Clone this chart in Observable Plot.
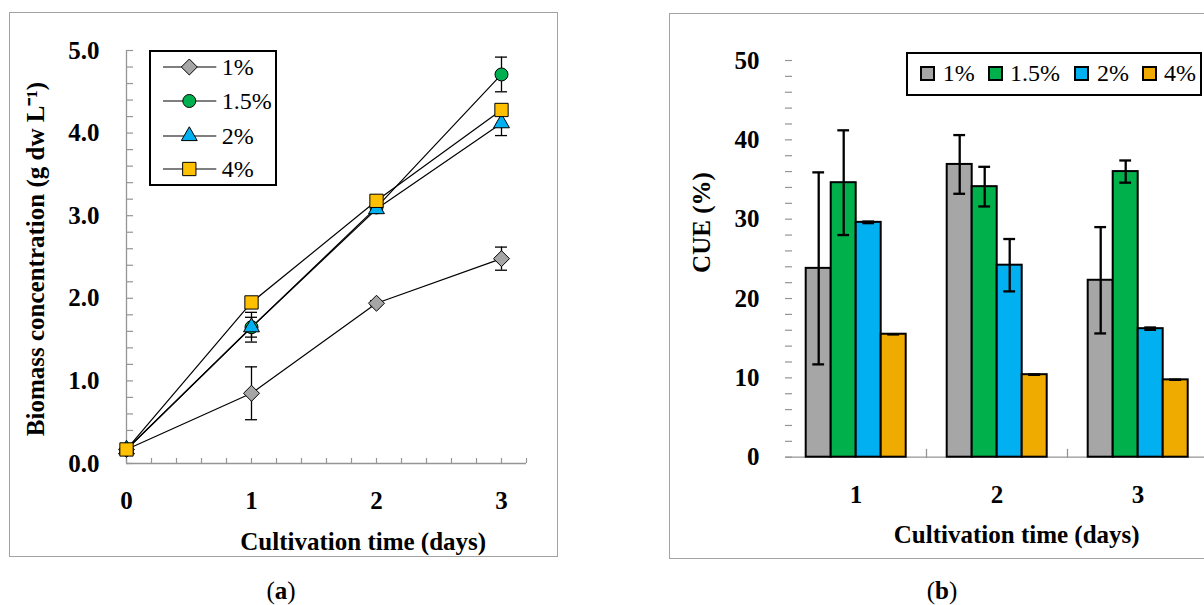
<!DOCTYPE html>
<html><head><meta charset="utf-8">
<script src="https://cdn.jsdelivr.net/npm/d3@7"></script>
<script src="https://cdn.jsdelivr.net/npm/@observablehq/plot@0.6"></script>
<style>
html,body{margin:0;padding:0;background:#fff;overflow:hidden}
#root{position:relative;width:1204px;height:605px;overflow:hidden;background:#fff;font-family:"Liberation Serif",serif;}
.frame{position:absolute;border:1px solid #a3a3a3;box-sizing:border-box;}
.chart{position:absolute;}
.chart svg{max-width:none !important;}
.legend{position:absolute;border:2px solid #000;background:#fff;box-sizing:border-box;}
.legend .t{position:absolute;font-family:"Liberation Serif",serif;font-size:24px;line-height:24px;white-space:nowrap;color:#000;}
.legend svg{position:absolute;overflow:visible}
.sw{position:absolute;width:15px;height:15px;border:2px solid #000;box-sizing:border-box;}
.cap{position:absolute;width:100px;text-align:center;font-family:"Liberation Serif",serif;font-size:25px;line-height:25px;color:#000;}
</style></head>
<body><div id="root">
  <div class="frame" style="left:9px;top:12px;width:549px;height:545px"></div>
  <div class="frame" style="left:669px;top:13px;width:560px;height:546px"></div>
  <div class="chart" id="chartA" style="left:9px;top:12px;width:549px;height:545px"></div>
  <div class="chart" id="chartB" style="left:669px;top:13px;width:561px;height:546px"></div>
  <div class="legend" id="legA" style="left:149px;top:50px;width:128px;height:136px"></div>
  <div class="legend" id="legB" style="left:906px;top:52px;width:296px;height:44px"></div>
  <div class="cap" style="left:231px;top:578px">(<b>a</b>)</div>
  <div class="cap" style="left:892px;top:578px">(<b>b</b>)</div>
</div>
<script>
// ---------- data: panel (a) biomass concentration ----------
const days = [0, 1, 2, 3];
const seriesNames = ["1%", "1.5%", "2%", "4%"];
const biomass1 = [0.17, 0.85, 1.94, 2.48];
const biomass1Err = [0.02, 0.32, 0.03, 0.14];
const biomass15 = [0.17, 1.65, 3.10, 4.71];
const biomass15Err = [0.02, 0.18, 0.04, 0.21];
const biomass2 = [0.17, 1.65, 3.08, 4.12];
const biomass2Err = [0.02, 0.12, 0.04, 0.15];
const biomass4 = [0.17, 1.95, 3.18, 4.28];
const biomass4Err = [0.02, 0.06, 0.03, 0.06];
const biomassYTicks = [0, 1, 2, 3, 4, 5];

// ---------- data: panel (b) CUE ----------
const cueDays = [1, 2, 3];
const cue1 = [23.8, 36.9, 22.3];
const cue1Err = [12.1, 3.7, 6.7];
const cue15 = [34.6, 34.1, 36.0];
const cue15Err = [6.6, 2.5, 1.4];
const cue2 = [29.6, 24.2, 16.2];
const cue2Err = [0.1, 3.3, 0.15];
const cue4 = [15.5, 10.4, 9.75];
const cue4Err = [0, 0, 0];
const cueYTicks = [0, 10, 20, 30, 40, 50];

// ---------- styling ----------
const axisGray = "#959595";
const lineColors = ["#a6a6a6", "#00b050", "#00b0f0", "#ffc000"];
const barColors = ["#a6a6a6", "#00b04a", "#00b0f0", "#f0ab00"];
const bioSymbols = ["diamond2", "circle", "triangle", "square"];
const bioR = [7.2, 6.5, 5.9, 7.5];
const d3Symbols = {diamond2: d3.symbolDiamond2, circle: d3.symbolCircle, triangle: d3.symbolTriangle, square: d3.symbolSquare};
const serif = "'Liberation Serif', serif";

const bioValues = [biomass1, biomass15, biomass2, biomass4];
const bioErrs = [biomass1Err, biomass15Err, biomass2Err, biomass4Err];
const bioData = seriesNames.flatMap((s, si) => days.map((d, i) => ({series: s, day: d, value: bioValues[si][i], err: bioErrs[si][i]})));

const cueValues = [cue1, cue15, cue2, cue4];
const cueErrs = [cue1Err, cue15Err, cue2Err, cue4Err];
const cueData = seriesNames.flatMap((s, si) => cueDays.map((d, i) => ({series: s, day: d, value: cueValues[si][i], err: cueErrs[si][i]})));

const xMinor = d3.range(17).map(i => i / 5);
const yMinor = d3.range(26).map(i => i / 5);
const cueMinor = d3.range(26).map(i => i * 2);

const svgStyle = {fontFamily: serif, fontSize: "25px", fontWeight: "bold", background: "transparent", color: "#000", overflow: "visible", maxWidth: "none"};

// ---------- panel (a) ----------
const chartA = Plot.plot({
  width: 549, height: 545,
  marginLeft: 117, marginRight: 32, marginTop: 38, marginBottom: 94,
  x: {domain: [0, 3.2], label: null},
  y: {domain: [0, 5], label: null},
  style: svgStyle,
  marks: [
    Plot.ruleX([0], {stroke: axisGray, strokeWidth: 1.3}),
    Plot.ruleY([0], {stroke: axisGray, strokeWidth: 1.3}),
    Plot.axisX({ticks: xMinor, tickSize: -5, tickFormat: () => "", stroke: axisGray, strokeWidth: 1.2, label: null}),
    Plot.axisY({ticks: yMinor, tickSize: -7, tickFormat: () => "", stroke: axisGray, strokeWidth: 1.2, label: null}),
    Plot.axisX({ticks: days, tickSize: 0, tickPadding: 45.5, lineAnchor: "bottom", tickFormat: d3.format("d"), label: null}),
    Plot.axisY({ticks: biomassYTicks, tickSize: 0, tickPadding: 27, tickFormat: d3.format(".1f"), label: null}),
    Plot.text(["Cultivation time (days)"], {frameAnchor: "bottom", textAnchor: "middle", lineAnchor: "bottom", dy: 86, dx: 36.7}),
    Plot.text(["Biomass concentration (g dw L\u207B\u00B9)"], {frameAnchor: "left", textAnchor: "middle", lineAnchor: "middle", rotate: -90, dx: -91, dy: 2}),
    Plot.line(bioData, {x: "day", y: "value", z: "series", stroke: "black", strokeWidth: 1.2}),
    Plot.ruleX(bioData, {x: "day", y1: d => d.value - d.err, y2: d => d.value + d.err, stroke: "black", strokeWidth: 1.3}),
    Plot.ruleY(bioData, {x1: "day", x2: "day", y: d => d.value + d.err, insetLeft: -6, insetRight: -6, stroke: "black", strokeWidth: 1.3}),
    Plot.ruleY(bioData, {x1: "day", x2: "day", y: d => d.value - d.err, insetLeft: -6, insetRight: -6, stroke: "black", strokeWidth: 1.3}),
    ...seriesNames.map((s, si) => Plot.dot(bioData.filter(d => d.series === s), {
      x: "day", y: "value", symbol: bioSymbols[si], r: bioR[si], fill: lineColors[si], stroke: "black", strokeWidth: 1, fillOpacity: 1
    }))
  ]
});
document.getElementById("chartA").appendChild(chartA);

// ---------- panel (b) ----------
const chartB = Plot.plot({
  width: 561, height: 546,
  marginLeft: 114.3, marginRight: 20.7, marginTop: 47, marginBottom: 102.3,
  fx: {domain: cueDays, padding: 0, label: null},
  x: {domain: seriesNames, paddingInner: 0, paddingOuter: 0.73, axis: null, label: null},
  y: {domain: [0, 50], label: null},
  color: {domain: seriesNames, range: barColors},
  style: svgStyle,
  marks: [
    Plot.ruleY([0], {stroke: axisGray, strokeWidth: 1.3}),
    Plot.frame({anchor: "right", insetTop: 389, stroke: axisGray, strokeWidth: 1.3}),
    Plot.axisY({ticks: cueMinor, tickSize: -7, tickFormat: () => "", stroke: axisGray, strokeWidth: 1.2, line: true, label: null}),
    Plot.axisY({ticks: cueYTicks, tickSize: 0, tickPadding: 26, label: null}),
    Plot.axisFx({anchor: "bottom", tickSize: 0, tickPadding: 45.5, lineAnchor: "bottom", label: null}),
    Plot.text(["Cultivation time (days)"], {frameAnchor: "bottom", textAnchor: "middle", lineAnchor: "bottom", dy: 86, dx: 160.7, facetAnchor: "left"}),
    Plot.text(["CUE (%)"], {frameAnchor: "left", textAnchor: "middle", lineAnchor: "middle", rotate: -90, dx: -83.3, dy: -36.3, facetAnchor: "left"}),
    Plot.barY(cueData, {fx: "day", x: "series", y: "value", fill: "series", stroke: "black", strokeWidth: 2}),
    Plot.ruleX(cueData, {fx: "day", x: "series", y1: d => d.value - d.err, y2: d => d.value + d.err, stroke: "black", strokeWidth: 2.3}),
    Plot.tickY(cueData, {fx: "day", x: "series", y: d => d.value + d.err, insetLeft: 6.6, insetRight: 6.6, stroke: "black", strokeWidth: 2.3}),
    Plot.tickY(cueData, {fx: "day", x: "series", y: d => d.value - d.err, insetLeft: 6.6, insetRight: 6.6, stroke: "black", strokeWidth: 2.3})
  ]
});
document.getElementById("chartB").appendChild(chartB);

// ---------- legend (a) ----------
const legA = d3.select("#legA");
const legACenters = [15.3, 49.3, 84, 117.3];
seriesNames.forEach((s, i) => {
  const svg = legA.append("svg").attr("width", 54).attr("height", 20)
    .style("left", "11.7px").style("top", (legACenters[i] - 10) + "px");
  svg.append("line").attr("x1", 0).attr("x2", 53.3).attr("y1", 10).attr("y2", 10).attr("stroke", "black").attr("stroke-width", 1.2);
  const sym = d3.symbol(d3Symbols[bioSymbols[i]], Math.PI * bioR[i] * bioR[i]);
  svg.append("path").attr("d", sym()).attr("transform", "translate(26.3,10)")
    .attr("fill", lineColors[i]).attr("stroke", "black").attr("stroke-width", 1);
  legA.append("div").attr("class", "t").style("left", "70.7px").style("top", (legACenters[i] - 12.1) + "px").text(s);
});

// ---------- legend (b) ----------
const legB = d3.select("#legB");
const swLeft = [12, 80, 166, 234];
const txtLeft = [34.7, 102, 189, 256];
seriesNames.forEach((s, i) => {
  legB.append("div").attr("class", "sw").style("left", swLeft[i] + "px").style("top", "11.5px").style("background", barColors[i]);
  legB.append("div").attr("class", "t").style("left", txtLeft[i] + "px").style("top", "7.3px").text(s);
});
</script>
</body></html>
